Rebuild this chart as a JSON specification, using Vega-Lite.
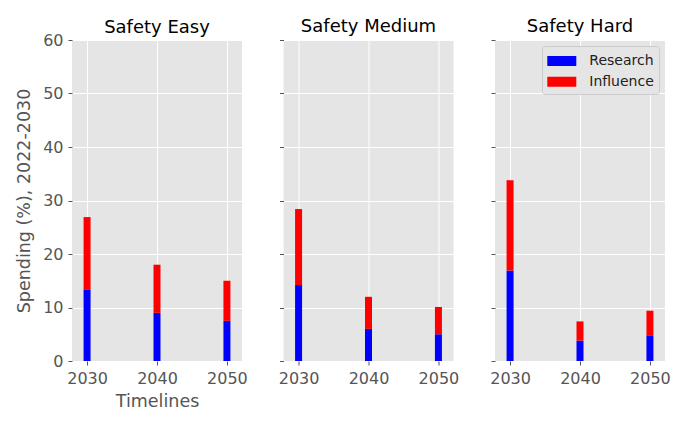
{
  "$schema": "https://vega.github.io/schema/vega-lite/v6.json",
  "padding": {"left": 15, "top": 18, "right": 5, "bottom": 5},
  "background": "white",
  "data": {
    "values": [
      {"panel": "Safety Easy", "year": 2030, "category": "Research", "value": 13.4},
      {"panel": "Safety Easy", "year": 2030, "category": "Influence", "value": 13.5},
      {"panel": "Safety Easy", "year": 2040, "category": "Research", "value": 9.0},
      {"panel": "Safety Easy", "year": 2040, "category": "Influence", "value": 9.0},
      {"panel": "Safety Easy", "year": 2050, "category": "Research", "value": 7.5},
      {"panel": "Safety Easy", "year": 2050, "category": "Influence", "value": 7.5},
      {"panel": "Safety Medium", "year": 2030, "category": "Research", "value": 14.2},
      {"panel": "Safety Medium", "year": 2030, "category": "Influence", "value": 14.2},
      {"panel": "Safety Medium", "year": 2040, "category": "Research", "value": 6.0},
      {"panel": "Safety Medium", "year": 2040, "category": "Influence", "value": 6.0},
      {"panel": "Safety Medium", "year": 2050, "category": "Research", "value": 5.0},
      {"panel": "Safety Medium", "year": 2050, "category": "Influence", "value": 5.1},
      {"panel": "Safety Hard", "year": 2030, "category": "Research", "value": 16.9},
      {"panel": "Safety Hard", "year": 2030, "category": "Influence", "value": 16.9},
      {"panel": "Safety Hard", "year": 2040, "category": "Research", "value": 3.8},
      {"panel": "Safety Hard", "year": 2040, "category": "Influence", "value": 3.6},
      {"panel": "Safety Hard", "year": 2050, "category": "Research", "value": 4.8},
      {"panel": "Safety Hard", "year": 2050, "category": "Influence", "value": 4.6}
    ]
  },
  "spacing": 41.5,
  "bounds": "flush",
  "resolve": {"scale": {"color": "independent"}, "legend": {"color": "independent"}},
  "config": {
    "font": "DejaVu Sans",
    "view": {"fill": "#E5E5E5", "stroke": null},
    "axis": {
      "domain": false,
      "gridColor": "white",
      "gridWidth": 1,
      "tickColor": "#555555",
      "tickSize": 4,
      "labelColor": "#555555",
      "labelFont": "DejaVu Sans",
      "labelFontSize": 16,
      "labelPadding": 5,
      "titleColor": "#555555",
      "titleFont": "DejaVu Sans",
      "titleFontSize": 17.5,
      "titleFontWeight": "normal"
    },
    "title": {"font": "DejaVu Sans", "fontSize": 18, "fontWeight": "normal", "color": "black", "offset": 3.5, "frame": "group"},
    "legend": {"labelFont": "DejaVu Sans", "labelFontSize": 14, "labelColor": "#222222"}
  },
  "hconcat": [
    {
      "title": {"text": "Safety Easy", "offset": -4.5},
      "width": 170,
      "height": 321,
      "transform": [{"filter": "datum.panel == 'Safety Easy'"}],
      "mark": {"type": "bar", "size": 7},
      "encoding": {
        "x": {"field": "year", "type": "quantitative", "scale": {"domain": [2028.56, 2051.44], "nice": false, "zero": false},
              "axis": {"values": [2030, 2040, 2050], "format": "d", "title": "Timelines", "titlePadding": 6}},
        "y": {"field": "value", "type": "quantitative", "stack": "zero", "scale": {"domain": [0, 60], "nice": false},
              "axis": {"values": [0, 10, 20, 30, 40, 50, 60], "title": "Spending (%), 2022-2030", "titlePadding": 9}},
        "color": {"field": "category", "type": "nominal", "scale": {"domain": ["Research", "Influence"], "range": ["#0000FF", "#FF0000"]}, "legend": null},
        "order": {"field": "category", "sort": "descending"}
      }
    },
    {
      "title": "Safety Medium",
      "width": 170,
      "height": 321,
      "transform": [{"filter": "datum.panel == 'Safety Medium'"}],
      "mark": {"type": "bar", "size": 7},
      "encoding": {
        "x": {"field": "year", "type": "quantitative", "scale": {"domain": [2028.56, 2051.44], "nice": false, "zero": false},
              "axis": {"values": [2030, 2040, 2050], "format": "d", "title": null}},
        "y": {"field": "value", "type": "quantitative", "stack": "zero", "scale": {"domain": [0, 60], "nice": false},
              "axis": {"values": [0, 10, 20, 30, 40, 50, 60], "labels": false, "title": null}},
        "color": {"field": "category", "type": "nominal", "scale": {"domain": ["Research", "Influence"], "range": ["#0000FF", "#FF0000"]}, "legend": null},
        "order": {"field": "category", "sort": "descending"}
      }
    },
    {
      "title": "Safety Hard",
      "width": 170,
      "height": 321,
      "transform": [{"filter": "datum.panel == 'Safety Hard'"}],
      "mark": {"type": "bar", "size": 7},
      "encoding": {
        "x": {"field": "year", "type": "quantitative", "scale": {"domain": [2028.56, 2051.44], "nice": false, "zero": false},
              "axis": {"values": [2030, 2040, 2050], "format": "d", "title": null}},
        "y": {"field": "value", "type": "quantitative", "stack": "zero", "scale": {"domain": [0, 60], "nice": false},
              "axis": {"values": [0, 10, 20, 30, 40, 50, 60], "labels": false, "title": null}},
        "color": {"field": "category", "type": "nominal", "scale": {"domain": ["Research", "Influence"], "range": ["#0000FF", "#FF0000"]},
                  "legend": {"title": null, "orient": "top-right", "offset": 6, "fillColor": "#E5E5E5", "strokeColor": "#CCCCCC",
                             "cornerRadius": 3, "padding": 5, "rowPadding": 3.75, "symbolType": "M-1.45,-0.5H1.45V0.5H-1.45Z", "symbolSize": 400,
                             "symbolStrokeWidth": 0, "symbolOffset": 4.8, "labelOffset": 17.5}},
        "order": {"field": "category", "sort": "descending"}
      }
    }
  ]
}
